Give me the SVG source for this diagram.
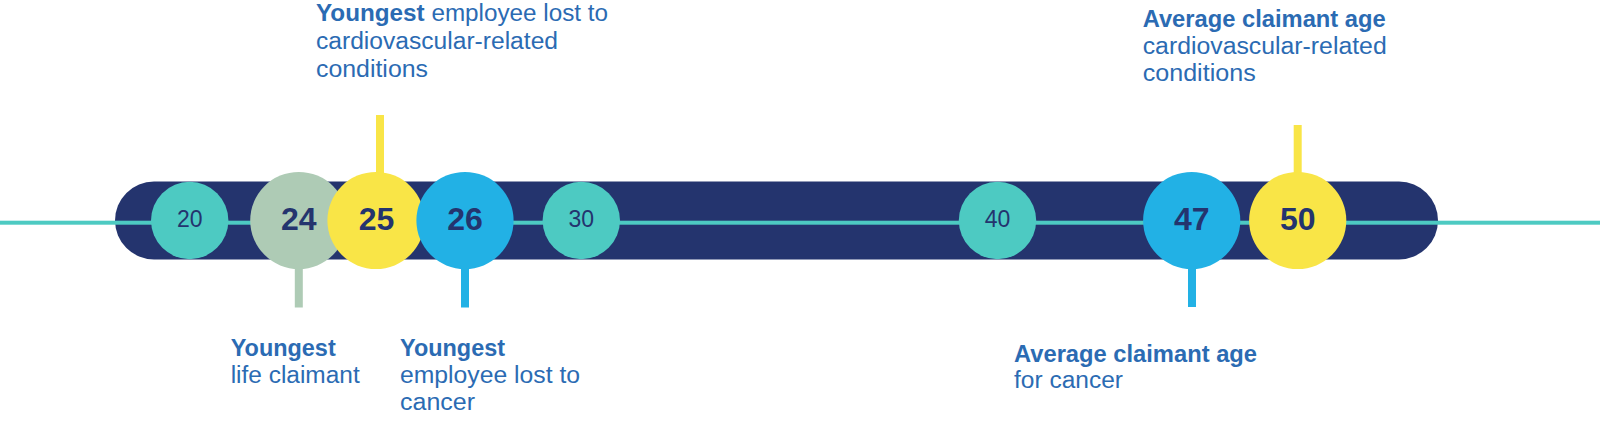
<svg xmlns="http://www.w3.org/2000/svg" width="1600" height="445" viewBox="0 0 1600 445">
<style>
.lbl{font-family:"Liberation Sans",Arial,sans-serif;font-size:23px;fill:#2b6bb3}
.b{font-weight:bold}
.big{font-family:"Liberation Sans",Arial,sans-serif;font-size:32px;font-weight:bold;fill:#24346e;text-anchor:middle}
.small{font-family:"Liberation Sans",Arial,sans-serif;font-size:23px;fill:#24346e;text-anchor:middle}
.teal{fill:#4dcac2}
.sage{fill:#aecbb5}
.yel{fill:#f9e547}
.blue{fill:#22b1e5}
</style>
<rect id="bar" x="115" y="181.5" width="1323" height="78" rx="39" fill="#24346e"/>
<g id="connectors">
<rect x="0" y="220.7" width="1600" height="4" fill="#4dcac2"/>
<rect x="376" y="115" width="8" height="60" class="yel"/>
<rect x="1293.7" y="125" width="8" height="50" class="yel"/>
<rect x="294.8" y="260" width="8" height="47.5" class="sage"/>
<rect x="461" y="260" width="8" height="47.5" class="blue"/>
<rect x="1188" y="260" width="8" height="47" class="blue"/>
</g>
<g id="n20"><circle cx="189.7" cy="220.5" r="38.7" class="teal"/><text x="189.7" y="227" class="small">20</text></g>
<g id="n30"><circle cx="581.3" cy="220.5" r="38.7" class="teal"/><text x="581.3" y="227" class="small">30</text></g>
<g id="n40"><circle cx="997.5" cy="220.5" r="38.7" class="teal"/><text x="997.5" y="227" class="small">40</text></g>
<g id="n24"><circle cx="298.8" cy="220.5" r="48.6" class="sage"/><text x="298.8" y="229.5" class="big">24</text>
<text class="lbl" x="230.7" y="356"><tspan class="b" textLength="105" lengthAdjust="spacingAndGlyphs">Youngest</tspan></text>
<text class="lbl" x="230.7" y="383" textLength="129" lengthAdjust="spacingAndGlyphs">life claimant</text></g>
<g id="n25"><circle cx="376" cy="220.5" r="48.6" class="yel"/><text x="376.5" y="229.5" class="big">25</text>
<text class="lbl" x="316" y="21" textLength="292" lengthAdjust="spacingAndGlyphs"><tspan class="b">Youngest</tspan> employee lost to</text>
<text class="lbl" x="316" y="49" textLength="242" lengthAdjust="spacingAndGlyphs">cardiovascular-related</text>
<text class="lbl" x="316" y="77" textLength="112" lengthAdjust="spacingAndGlyphs">conditions</text></g>
<g id="n26"><circle cx="465" cy="220.5" r="48.6" class="blue"/><text x="465" y="229.5" class="big">26</text>
<text class="lbl" x="400" y="356"><tspan class="b" textLength="105" lengthAdjust="spacingAndGlyphs">Youngest</tspan></text>
<text class="lbl" x="400" y="383" textLength="180" lengthAdjust="spacingAndGlyphs">employee lost to</text>
<text class="lbl" x="400" y="410" textLength="75" lengthAdjust="spacingAndGlyphs">cancer</text></g>
<g id="n47"><circle cx="1191.7" cy="220.5" r="48.6" class="blue"/><text x="1191.7" y="229.5" class="big">47</text>
<text class="lbl" x="1014" y="362"><tspan class="b" textLength="243" lengthAdjust="spacingAndGlyphs">Average claimant age</tspan></text>
<text class="lbl" x="1014" y="388" textLength="109" lengthAdjust="spacingAndGlyphs">for cancer</text></g>
<g id="n50"><circle cx="1297.7" cy="220.5" r="48.6" class="yel"/><text x="1297.7" y="229.5" class="big">50</text>
<text class="lbl" x="1142.7" y="27"><tspan class="b" textLength="243" lengthAdjust="spacingAndGlyphs">Average claimant age</tspan></text>
<text class="lbl" x="1142.7" y="54" textLength="244" lengthAdjust="spacingAndGlyphs">cardiovascular-related</text>
<text class="lbl" x="1142.7" y="81" textLength="113" lengthAdjust="spacingAndGlyphs">conditions</text></g>
</svg>
